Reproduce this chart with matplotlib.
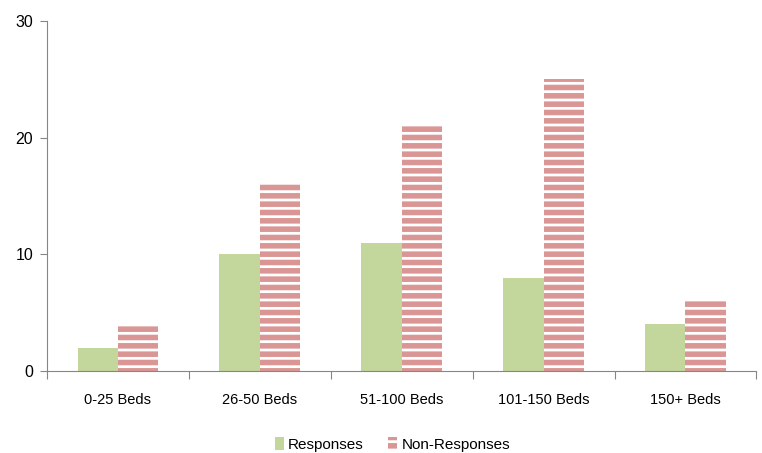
import matplotlib.pyplot as plt
import numpy as np

plt.rcParams['font.family'] = ['Liberation Sans', 'DejaVu Sans']
plt.rcParams['hatch.linewidth'] = 4.0

categories = ['0-25 Beds', '26-50 Beds', '51-100 Beds', '101-150 Beds', '150+ Beds']
responses = [2, 10, 11, 8, 4]
non_responses = [4, 16, 21, 25, 6]
yticks = [0, 10, 20, 30]

fig = plt.figure(figsize=(7.62, 4.53), dpi=100)
ax = fig.add_axes([0.0617, 0.181, 0.931, 0.773])

x = np.arange(len(categories))
w = 0.285
ax.bar(x - w / 2, responses, w, color='#c3d69b', label='Responses')
ax.bar(x + w / 2, non_responses, w, color='white', edgecolor='#d99694',
       hatch='--', linewidth=0, label='Non-Responses')

ax.set_xlim(-0.5, len(categories) - 0.5)
ax.set_ylim(0, 30)
ax.set_yticks(yticks)
ax.set_yticklabels([str(t) for t in yticks], fontsize=11.5)

# ticks at category boundaries, labels in the middle
ax.set_xticks(np.arange(-0.5, len(categories)), minor=False)
ax.set_xticklabels([])
ax.set_xticks(x, minor=True)
ax.set_xticklabels(categories, minor=True, fontsize=10.5)
ax.tick_params(axis='x', which='major', length=6, color='#868686', direction='out')
ax.tick_params(axis='x', which='minor', length=0, pad=16)
ax.tick_params(axis='y', length=5, color='#868686', pad=5)

for s in ['top', 'right']:
    ax.spines[s].set_visible(False)
for s in ['left', 'bottom']:
    ax.spines[s].set_color('#868686')

ax.legend(loc='upper center', bbox_to_anchor=(0.487, -0.15), ncol=2, frameon=False,
          fontsize=11, handlelength=0.55, handleheight=0.9, handletextpad=0.3,
          columnspacing=1.6)

fig.savefig('out.png', dpi=100)
